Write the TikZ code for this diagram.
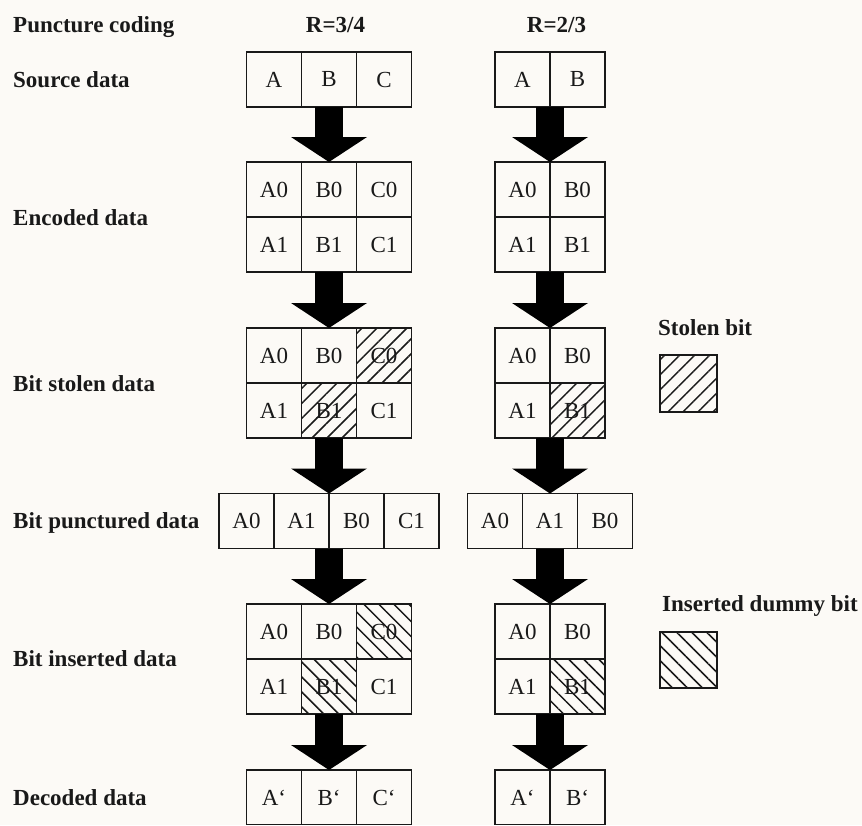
\documentclass[tikz,border=0pt]{standalone}
\usepackage{fontspec}
\setmainfont{Liberation Serif}
\usetikzlibrary{arrows.meta,patterns.meta}
\definecolor{bgc}{RGB}{252,250,246}
\definecolor{ink}{RGB}{25,25,25}
\begin{document}
\begin{tikzpicture}[x=1pt,y=-1pt,
  cell/.style={draw=ink, line width=1.4pt, minimum width=55pt, minimum height=55pt,
    inner sep=0pt, outer sep=0pt, font=\fontsize{23}{27}\selectfont, text=ink},
  lbl/.style={anchor=base west, inner sep=0pt, text=ink,
    font=\fontsize{23}{27}\selectfont\bfseries},
  stolen/.style={pattern={Lines[angle=45,distance=10.6pt,line width=1.5pt]}, pattern color=ink},
  dummy/.style={pattern={Lines[angle=-45,distance=10.6pt,line width=1.5pt]}, pattern color=ink},
  blk/.style={draw=black, line width=28pt, line cap=butt,
    -{Triangle[width=76pt,length=25pt,line width=0pt]}}]
\fill[bgc] (0,0) rectangle (862,825);
\useasboundingbox (0,0) rectangle (862,825);
\begin{scope}
\clip (0,0) rectangle (862,824);
% headers
\node[lbl] (title) at (13,32) {Puncture coding};
\node[lbl, anchor=base] (r34) at (335.5,32) {R=3/4};
\node[lbl, anchor=base] (r23) at (556.5,32) {R=2/3};
% row labels
\node[lbl] (lsrc) at (13,87.1) {Source data};
\node[lbl] (lenc) at (13,225.1) {Encoded data};
\node[lbl] (lstl) at (13,391.1) {Bit stolen data};
\node[lbl] (lpun) at (13,528.6) {Bit punctured data};
\node[lbl] (lins) at (13,666.6) {Bit inserted data};
\node[lbl] (ldec) at (13,805.1) {Decoded data};
% source
\node[cell] (sA) at (274,79.5) {A};
\node[cell] (sB) at (329,79.5) {B};
\node[cell] (sC) at (384,79.5) {C};
\node[cell] (tA) at (522.5,79.5) {A};
\node[cell] (tB) at (577.5,79.5) {B};
% encoded
\node[cell] (eA0) at (274,189.5) {A0};
\node[cell] (eB0) at (329,189.5) {B0};
\node[cell] (eC0) at (384,189.5) {C0};
\node[cell] (eA1) at (274,244.5) {A1};
\node[cell] (eB1) at (329,244.5) {B1};
\node[cell] (eC1) at (384,244.5) {C1};
\node[cell] (fA0) at (522.5,189.5) {A0};
\node[cell] (fB0) at (577.5,189.5) {B0};
\node[cell] (fA1) at (522.5,244.5) {A1};
\node[cell] (fB1) at (577.5,244.5) {B1};
% stolen
\node[cell] (gA0) at (274,355.5) {A0};
\node[cell] (gB0) at (329,355.5) {B0};
\node[cell,stolen] (gC0) at (384,355.5) {C0};
\node[cell] (gA1) at (274,410.5) {A1};
\node[cell,stolen] (gB1) at (329,410.5) {B1};
\node[cell] (gC1) at (384,410.5) {C1};
\node[cell] (hA0) at (522.5,355.5) {A0};
\node[cell] (hB0) at (577.5,355.5) {B0};
\node[cell] (hA1) at (522.5,410.5) {A1};
\node[cell,stolen] (hB1) at (577.5,410.5) {B1};
% punctured
\node[cell] (pA0) at (246.5,521) {A0};
\node[cell] (pA1) at (301.5,521) {A1};
\node[cell] (pB0) at (356.5,521) {B0};
\node[cell] (pC1) at (411.5,521) {C1};
\node[cell] (qA0) at (495,521) {A0};
\node[cell] (qA1) at (550,521) {A1};
\node[cell] (qB0) at (605,521) {B0};
% inserted
\node[cell] (iA0) at (274,631.5) {A0};
\node[cell] (iB0) at (329,631.5) {B0};
\node[cell,dummy] (iC0) at (384,631.5) {C0};
\node[cell] (iA1) at (274,686.5) {A1};
\node[cell,dummy] (iB1) at (329,686.5) {B1};
\node[cell] (iC1) at (384,686.5) {C1};
\node[cell] (jA0) at (522.5,631.5) {A0};
\node[cell] (jB0) at (577.5,631.5) {B0};
\node[cell] (jA1) at (522.5,686.5) {A1};
\node[cell,dummy] (jB1) at (577.5,686.5) {B1};
% decoded
\node[cell] (dA) at (274,797.5) {A`};
\node[cell] (dB) at (329,797.5) {B`};
\node[cell] (dC) at (384,797.5) {C`};
\node[cell] (kA) at (522.5,797.5) {A`};
\node[cell] (kB) at (577.5,797.5) {B`};
% legend
\node[lbl] (lgs) at (658,335) {Stolen bit};
\node[cell,stolen,minimum width=57pt,minimum height=57pt] (lgsq) at (688.5,383.5) {};
\node[lbl] (lgi) at (662,611) {Inserted dummy bit};
\node[cell,dummy,minimum width=57pt,minimum height=56pt] (lgiq) at (688.5,660) {};
% arrows left
\draw[blk] (sB.south) -- (eB0.north);
\draw[blk] (eB1.south) -- (gB0.north);
\draw[blk] (gB1.south) -- (pA1.north east);
\draw[blk] (pA1.south east) -- (iB0.north);
\draw[blk] (iB1.south) -- (dB.north);
% arrows right
\draw[blk] (tA.south east) -- (fA0.north east);
\draw[blk] (fA1.south east) -- (hA0.north east);
\draw[blk] (hA1.south east) -- (qA1.north);
\draw[blk] (qA1.south) -- (jA0.north east);
\draw[blk] (jA1.south east) -- (kA.north east);
\end{scope}
\end{tikzpicture}
\end{document}
